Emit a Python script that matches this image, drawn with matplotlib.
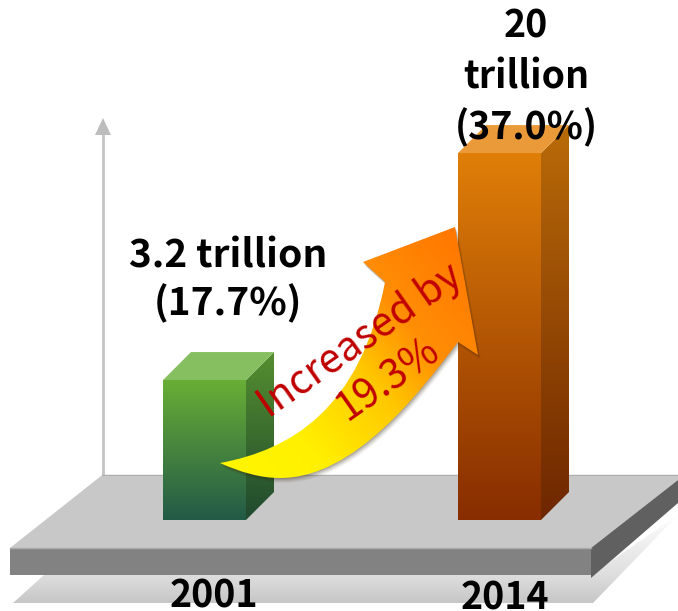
import numpy as np
import matplotlib
matplotlib.use("Agg")
import matplotlib.pyplot as plt
from matplotlib.colors import LinearSegmentedColormap
from matplotlib.patches import Polygon, PathPatch
from matplotlib.path import Path

plt.rcParams['font.family'] = ['Noto Sans CJK KR', 'DejaVu Sans']

# values
years = ["2001", "2014"]
shares = [17.7, 37.0]
bar_labels = ["3.2 trillion\n(17.7%)", "20\ntrillion\n(37.0%)"]
arrow_label = "Increased by\n19.3%"

W, H = 678, 611

# share axis: 5.8% sits on the platform, 11.76 px per percent point
SHARE_BASE = 5.8
PX_PER_SHARE = 11.76
BASE_PX = 520

fig = plt.figure(figsize=(W / 100, H / 100), dpi=100)


def layer():
    ax = fig.add_axes([0, 0, 1, 1])
    ax.axis("off")
    ax.patch.set_alpha(0)
    return ax


def gradient_fill(ax, patch, extent, stops, angle=None):
    # vertical gradient by default, otherwise rising towards the upper right
    cmap = LinearSegmentedColormap.from_list("g", stops)
    if angle is None:
        g = np.linspace(0, 1, 256).reshape(-1, 1)
    else:
        xx, yy = np.meshgrid(np.linspace(0, 1, 256), np.linspace(0, 1, 256))
        g = xx * angle[0] + (1 - yy) * angle[1]
    im = ax.imshow(g, extent=extent, aspect="auto", cmap=cmap, vmin=0, vmax=1,
                   origin="upper", interpolation="bilinear", zorder=1)
    im.set_clip_path(patch)


# platform layer, pixel coordinates
base = layer()

lower = Polygon([(13, 603), (44, 575), (591, 575), (678, 515), (593, 603)],
                closed=True, fc="none", ec="none")
base.add_patch(lower)
gradient_fill(base, lower, (0, 678, 606, 515),
              [(0, "#FFFFFF"), (0.66, "#DEDEDE"), (0.97, "#C6C6C6"), (1, "#C6C6C6")])

# axis arrow and back edge
base.plot([103, 103], [476, 130], color="#C4C4C4", lw=2, solid_capstyle="butt", zorder=2)
base.add_patch(Polygon([(103, 118), (95, 135), (111, 135)], closed=True, fc="#BDBDBD", ec="none", zorder=2))
base.plot([103, 678], [476, 476], color="#AFAFAF", lw=2.5, zorder=2)

base.add_patch(Polygon([(10, 548), (101, 476), (678, 476), (678, 480), (591, 548)],
                       closed=True, fc="#C8C8C8", ec="none", zorder=3))
base.add_patch(Polygon([(10, 548), (591, 548), (591, 575), (10, 575)],
                       closed=True, fc="#828282", ec="none", zorder=3))
base.plot([10, 591], [548, 548], color="#ABABAB", lw=1, zorder=4)
base.add_patch(Polygon([(591, 548), (678, 480), (678, 503), (591, 578)],
                       closed=True, fc="#606060", ec="none", zorder=3))
base.set_xlim(0, W)
base.set_ylim(H, 0)

# bars, share coordinates
bars = layer()
bar_left = [163, 458]
bar_width = 83
depth_x = 28
depth_y = 28 / PX_PER_SHARE
front_colors = [["#69AE35", "#225A47"], ["#E07F08", "#872D00"]]
side_colors = [["#558F2E", "#20492F"], ["#BA6B08", "#6E2600"]]
top_colors = ["#85BF5F", "#EA9A39"]

rects = bars.bar(bar_left, [s - SHARE_BASE for s in shares], width=bar_width,
                 bottom=SHARE_BASE, align="edge", color="none")
for i, rect in enumerate(rects):
    x0 = rect.get_x()
    x1 = x0 + rect.get_width()
    v = rect.get_y() + rect.get_height()
    gradient_fill(bars, rect, (x0, x1, SHARE_BASE, v), front_colors[i])
    side = Polygon([(x1, v), (x1 + depth_x, v + depth_y),
                    (x1 + depth_x, SHARE_BASE + depth_y), (x1, SHARE_BASE)],
                   closed=True, fc="none", ec="none")
    bars.add_patch(side)
    gradient_fill(bars, side, (x1, x1 + depth_x, SHARE_BASE, v + depth_y), side_colors[i])
    bars.add_patch(Polygon([(x0, v), (x0 + depth_x, v + depth_y),
                            (x1 + depth_x, v + depth_y), (x1, v)],
                           closed=True, fc=top_colors[i], ec="none"))
bars.set_xlim(0, W)
bars.set_ylim(SHARE_BASE - (H - BASE_PX) / PX_PER_SHARE, SHARE_BASE + BASE_PX / PX_PER_SHARE)

# arrow and text layer, pixel coordinates
top = layer()
M, L, C = Path.MOVETO, Path.LINETO, Path.CURVE4
arrow_verts = [(220, 463),
               (290, 450), (360, 410), (385, 282),
               (363, 262), (455, 227), (478, 355), (458, 342),
               (420, 392), (355, 478), (280, 478),
               (260, 478), (240, 472), (220, 463)]
arrow_codes = [M, C, C, C, L, L, L, L, C, C, C, C, C, C]
arrow_path = Path(arrow_verts, arrow_codes)

for off, a in [(5, 0.05), (4, 0.07), (3, 0.09), (2, 0.12), (1, 0.15)]:
    shifted = Path(np.array(arrow_verts) + [off * 0.6, off], arrow_codes)
    top.add_patch(PathPatch(shifted, fc="#3A2A10", ec="none", alpha=a, zorder=0))

arrow = PathPatch(arrow_path, fc="none", ec="none")
top.add_patch(arrow)
gradient_fill(top, arrow, (215, 480, 480, 225),
              [(0, "#FFF700"), (0.25, "#FFF000"), (0.5, "#FFC800"),
               (0.68, "#FF8E05"), (1, "#FF7200")], angle=(0.55, 0.45))

# the labels
top.text(228, 280, bar_labels[0], ha="center", va="center", fontsize=28,
         fontweight="bold", color="black", linespacing=1.26, zorder=5)
top.text(526, 77, bar_labels[1], ha="center", va="center", fontsize=27,
         fontweight="bold", color="black", linespacing=1.36, zorder=5)
top.text(214, 608, years[0], ha="center", va="baseline", fontsize=27,
         fontweight="bold", color="black", zorder=5)
top.text(505, 610, years[1], ha="center", va="baseline", fontsize=27,
         fontweight="bold", color="black", zorder=5)
top.text(374, 360, arrow_label, ha="center", va="center", fontsize=29, color="#C00000",
         rotation=35, rotation_mode="anchor", linespacing=1.2, zorder=5)

top.set_xlim(0, W)
top.set_ylim(H, 0)

fig.savefig("out.png", dpi=100)
